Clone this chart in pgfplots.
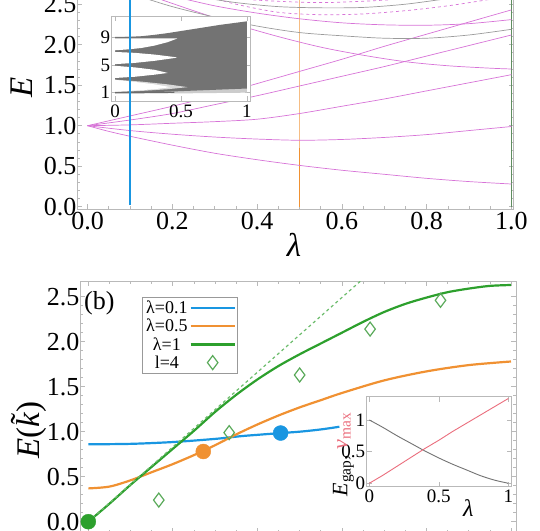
\documentclass[border=0pt]{standalone}
\usepackage{fontspec}
\setmainfont{Liberation Serif}
\usepackage{pgfplots}
\pgfplotsset{compat=1.18}
\definecolor{mag}{RGB}{215,115,215}
\definecolor{gry}{RGB}{155,155,155}
\definecolor{cblue}{RGB}{25,150,225}
\definecolor{corange}{RGB}{240,145,50}
\definecolor{cgreen}{RGB}{45,160,45}
\definecolor{cdiam}{RGB}{90,170,90}
\definecolor{cpink}{RGB}{235,110,125}
\definecolor{framecol}{RGB}{185,185,185}
\pgfplotsset{
  frm/.style={scale only axis, anchor=south west,
    axis line style={framecol, line width=0.7pt},
    every tick/.style={framecol, line width=0.7pt},
    major tick length=5pt, minor tick length=3pt, tick align=inside,
    /pgf/number format/assume math mode=true,
    tick label style={font=\fontsize{26}{28}\selectfont},
    label style={font=\fontsize{33}{35}\selectfont}},
  onedec/.style={/pgf/number format/fixed, /pgf/number format/fixed zerofill, /pgf/number format/precision=1},
  lev/.style={mag, line width=0.7pt, smooth},
  glev/.style={gry, line width=0.7pt, smooth}
}
\begin{document}
\begin{tikzpicture}[x=1pt,y=1pt]
% ---------------- top panel ----------------
\begin{axis}[frm, at={(76.9pt,320.87pt)}, width=436.7pt, height=221.13pt,
  xmin=-0.025, xmax=1.005, ymin=-0.03, ymax=2.7,
  xtick={0,0.2,0.4,0.6,0.8,1}, ytick={0,0.5,1,1.5,2,2.5},
  minor x tick num=3, minor y tick num=4,
  xticklabel style={onedec}, yticklabel style={onedec, xshift=3pt},
  xlabel={\textit{λ}}, ylabel={\textit{E}},
  xlabel style={at={(rel axis cs:0.497,-0.162)}, anchor=center},
  ylabel style={at={(rel axis cs:-0.126,0.552)}, anchor=center}]
\addplot[corange!60, line width=0.6pt] coordinates {(0.5,0.0) (0.5,2.7)};
\addplot[corange, line width=1pt] coordinates {(0.5,0.0) (0.5,0.72)};
\addplot[cgreen!40!gray, line width=0.7pt] coordinates {(1,0.0) (1,2.7)};
% magenta levels
\addplot[lev] coordinates {(0,1) (0.05,0.93) (0.1,0.87) (0.2,0.76) (0.3,0.66) (0.4,0.58) (0.5,0.51) (0.6,0.45) (0.7,0.40) (0.8,0.35) (0.9,0.31) (1,0.28)};
\addplot[lev] coordinates {(0,1) (0.1,0.94) (0.2,0.895) (0.3,0.86) (0.4,0.835) (0.5,0.82) (0.6,0.83) (0.7,0.855) (0.8,0.89) (0.9,0.94) (1,0.99)};
\addplot[lev] coordinates {(0,1) (0.1,1.01) (0.2,1.03) (0.3,1.05) (0.4,1.08) (0.5,1.15) (0.6,1.24) (0.7,1.33) (0.8,1.43) (0.9,1.53) (1,1.63)};
\addplot[lev] coordinates {(0,1) (0.1,1.07) (0.2,1.15) (0.3,1.26) (0.4,1.37) (0.5,1.49) (0.6,1.61) (0.7,1.73) (0.8,1.86) (0.9,1.99) (1,2.12)};
\addplot[lev] coordinates {(0,1) (0.1,1.12) (0.2,1.24) (0.3,1.37) (0.4,1.52) (0.5,1.67) (0.6,1.82) (0.7,1.98) (0.8,2.13) (0.9,2.28) (1,2.43)};
\addplot[lev] coordinates {(0.15,2.6) (0.25,2.42) (0.35,2.25) (0.45,2.10) (0.55,1.97) (0.65,1.87) (0.75,1.79) (0.85,1.74) (0.95,1.71) (1,1.70)};
\addplot[lev] coordinates {(0.2,2.6) (0.3,2.48) (0.4,2.39) (0.5,2.32) (0.6,2.27) (0.7,2.245) (0.8,2.24) (0.9,2.26) (1,2.31)};
\addplot[lev, dashed] coordinates {(0.28,2.6) (0.35,2.5) (0.45,2.4) (0.55,2.37) (0.65,2.38) (0.75,2.42) (0.85,2.48) (0.95,2.56) (1,2.6)};
\addplot[lev, dashed] coordinates {(0.25,2.62) (0.4,2.55) (0.55,2.52) (0.7,2.55) (0.8,2.6)};
% grey levels
\addplot[glev] coordinates {(0.12,2.6) (0.2,2.47) (0.3,2.34) (0.4,2.23) (0.5,2.15) (0.6,2.11) (0.7,2.08) (0.8,2.08) (0.9,2.12) (1,2.19)};
\addplot[glev] coordinates {(0.25,2.6) (0.35,2.52) (0.45,2.47) (0.55,2.455) (0.65,2.46) (0.75,2.5) (0.85,2.57)};
\end{axis}
% ---------------- top inset ----------------
\begin{axis}[frm, at={(111.7pt,429pt)}, width=138.3pt, height=85pt,
  xmin=-0.025, xmax=1.023, ymin=-0.2, ymax=12.07,
  xtick={0,0.5,1}, ytick={1,5,9}, xticklabels={0,0.5,1},
  tick label style={font=\fontsize{19}{20}\selectfont},
  yticklabel style={xshift=2pt},
  axis background/.style={fill=white}]
\addplot[fill=gray!40, draw=none] coordinates {(0.15,0.98) (0.5,0.9) (1,1.0) (1,1.9) (0.6,1.5) (0.3,1.1)} -- cycle;
\addplot[fill=gray!90!black, draw=none] coordinates {(0,9.0) (0.1,9.05) (0.2,9.15) (0.3,9.35) (0.4,9.6) (0.5,9.9) (0.6,10.2) (0.7,10.5) (0.8,10.8) (0.9,11.05) (1,11.3) (1,1.6) (0.8,1.45) (0.6,1.3) (0.4,1.15) (0.2,1.03) (0,0.95)} -- cycle;
\addplot[fill=white, draw=none] coordinates {(0,7.12) (0.1,7.25) (0.2,7.45) (0.3,7.8) (0.4,8.3) (0.47,8.8) (0.47,8.85) (0,8.85)} -- cycle;
\addplot[fill=white, draw=none] coordinates {(0,5.12) (0.15,5.3) (0.3,5.6) (0.45,6.0) (0.47,6.1) (0.3,6.5) (0.15,6.75) (0,6.88)} -- cycle;
\addplot[fill=white, draw=none] coordinates {(0,3.12) (0.15,3.3) (0.3,3.6) (0.4,3.85) (0.3,4.3) (0.15,4.65) (0,4.88)} -- cycle;
\addplot[fill=gray!30, draw=none] coordinates {(0,1.1) (0.2,1.25) (0.4,1.5) (0.55,1.8) (0.4,2.2) (0.2,2.6) (0,2.88)} -- cycle;
\addplot[fill=white, draw=none] coordinates {(0,1.15) (0.15,1.3) (0.3,1.5) (0.42,1.8) (0.3,2.2) (0.15,2.55) (0,2.85)} -- cycle;
\addplot[gray!90!black, line width=0.8pt] coordinates {(0,9) (0.2,9.0) (0.35,9.05)};
\addplot[gray!85!black, line width=1.2pt] coordinates {(0,1) (0.2,1.0) (0.45,1.05)};
\end{axis}
% blue line overlay on top panel
\begin{axis}[scale only axis, anchor=south west, at={(76.9pt,320.87pt)}, width=436.7pt, height=221.13pt,
  xmin=-0.025, xmax=1.005, ymin=-0.03, ymax=2.7, hide axis]
\addplot[cblue, line width=2pt] coordinates {(0.1,0.02) (0.1,2.7)};
\end{axis}
% ---------------- bottom panel ----------------
\begin{axis}[frm, at={(79.85pt,-2.5pt)}, width=436.2pt, height=251.1pt,
  xmin=-0.02, xmax=1.012, ymin=-0.12, ymax=2.67,
  xtick={0,0.2,0.4,0.6,0.8,1}, xticklabels={}, ytick={0,0.5,1,1.5,2,2.5},
  minor x tick num=3, minor y tick num=4,
  yticklabel style={onedec, xshift=3pt},
  ylabel={\textit{E}(\textit{k}\llap{\raisebox{0.2em}{\char"02DC}\hspace{0.02em}})},
  ylabel style={at={(rel axis cs:-0.117,0.408)}, anchor=center},
  clip mode=individual,
  legend style={at={(0.142,0.939)}, anchor=north west, draw=gray!80, line width=0.8pt,
    font=\fontsize{18}{18}\selectfont, inner sep=2pt, row sep=0pt,
    legend plot pos=right, legend cell align=center},
  legend image code/.code={\draw[mark repeat=2,mark phase=2,#1] plot coordinates {(0pt,0pt) (22pt,0pt) (44pt,0pt)};}]
\addplot[cblue, line width=2.2pt, smooth] coordinates {(0,0.86) (0.1,0.865) (0.2,0.885) (0.3,0.92) (0.36,0.95) (0.4,0.965) (0.455,0.985) (0.5,1.0) (0.55,1.025) (0.594,1.055)};
\addlegendentry{λ=0.1}
\addplot[corange, line width=2.2pt, smooth] coordinates {(0,0.37) (0.05,0.39) (0.1,0.46) (0.15,0.55) (0.2,0.64) (0.25,0.74) (0.3,0.85) (0.35,0.97) (0.4,1.08) (0.45,1.18) (0.5,1.27) (0.55,1.35) (0.6,1.43) (0.7,1.57) (0.8,1.67) (0.9,1.74) (1,1.78)};
\addlegendentry{λ=0.5}
\addplot[cgreen, line width=2.2pt, smooth] coordinates {(0,0) (0.05,0.2) (0.1,0.41) (0.15,0.61) (0.2,0.81) (0.25,1.01) (0.3,1.22) (0.35,1.41) (0.4,1.58) (0.45,1.73) (0.5,1.86) (0.55,1.98) (0.6,2.10) (0.65,2.22) (0.7,2.33) (0.75,2.42) (0.8,2.49) (0.85,2.55) (0.9,2.59) (0.95,2.62) (1,2.63)};
\addlegendentry{λ=1}
\addplot[only marks, mark=diamond, mark size=7pt, cdiam, line width=1.2pt] coordinates {(0.1667,0.24) (0.3333,0.99) (0.5,1.63) (0.6667,2.14) (0.8333,2.46)};
\addlegendentry{l=4}
\addplot[forget plot, cgreen!70, line width=1.2pt, dashed] coordinates {(0,0) (0.66,2.74)};
\addplot[forget plot, only marks, mark=*, mark size=7.5pt, cgreen] coordinates {(0,0)};
\addplot[forget plot, only marks, mark=*, mark size=7.5pt, corange] coordinates {(0.272,0.78)};
\addplot[forget plot, only marks, mark=*, mark size=7.5pt, cblue] coordinates {(0.455,0.985)};
\node[font=\fontsize{26}{28}\selectfont] at (axis cs:0.026,2.43) {(b)};
\end{axis}
% ---------------- bottom inset ----------------
\begin{axis}[frm, at={(366.7pt,43.3pt)}, width=145pt, height=90pt,
  xmin=-0.019, xmax=1.024, ymin=-0.054, ymax=1.368,
  xtick={0,0.5,1}, ytick={0,0.5,1},
  xticklabels={0,0.5,1}, yticklabels={0,0.5,1},
  tick label style={font=\fontsize{19}{20}\selectfont},
  yticklabel style={xshift=2pt},
  label style={font=\fontsize{24}{26}\selectfont},
  xlabel={\textit{λ}},
  xlabel style={at={(rel axis cs:0.70,-0.24)}, anchor=center},
  ylabel={\textit{E}\textsubscript{gap}, \textcolor{cpink}{\textit{v}\textsubscript{max}}},
  ylabel style={at={(rel axis cs:-0.16,0.36)}, anchor=center, font=\fontsize{22}{24}\selectfont},
  axis background/.style={fill=white}]
\addplot[gray!90!black, line width=0.9pt, smooth] coordinates {(0,1.0) (0.1,0.88) (0.2,0.75) (0.3,0.63) (0.4,0.51) (0.5,0.40) (0.6,0.30) (0.7,0.21) (0.8,0.12) (0.9,0.05) (1,0.0)};
\addplot[cpink, line width=0.9pt] coordinates {(0,0) (0.1,0.13) (0.2,0.27) (0.3,0.41) (0.4,0.55) (0.5,0.68) (0.6,0.82) (0.7,0.95) (0.8,1.08) (0.9,1.21) (1,1.34)};
\end{axis}
\pgfresetboundingbox
\useasboundingbox (0pt,0pt) rectangle (540pt,530pt);
\end{tikzpicture}
\end{document}
